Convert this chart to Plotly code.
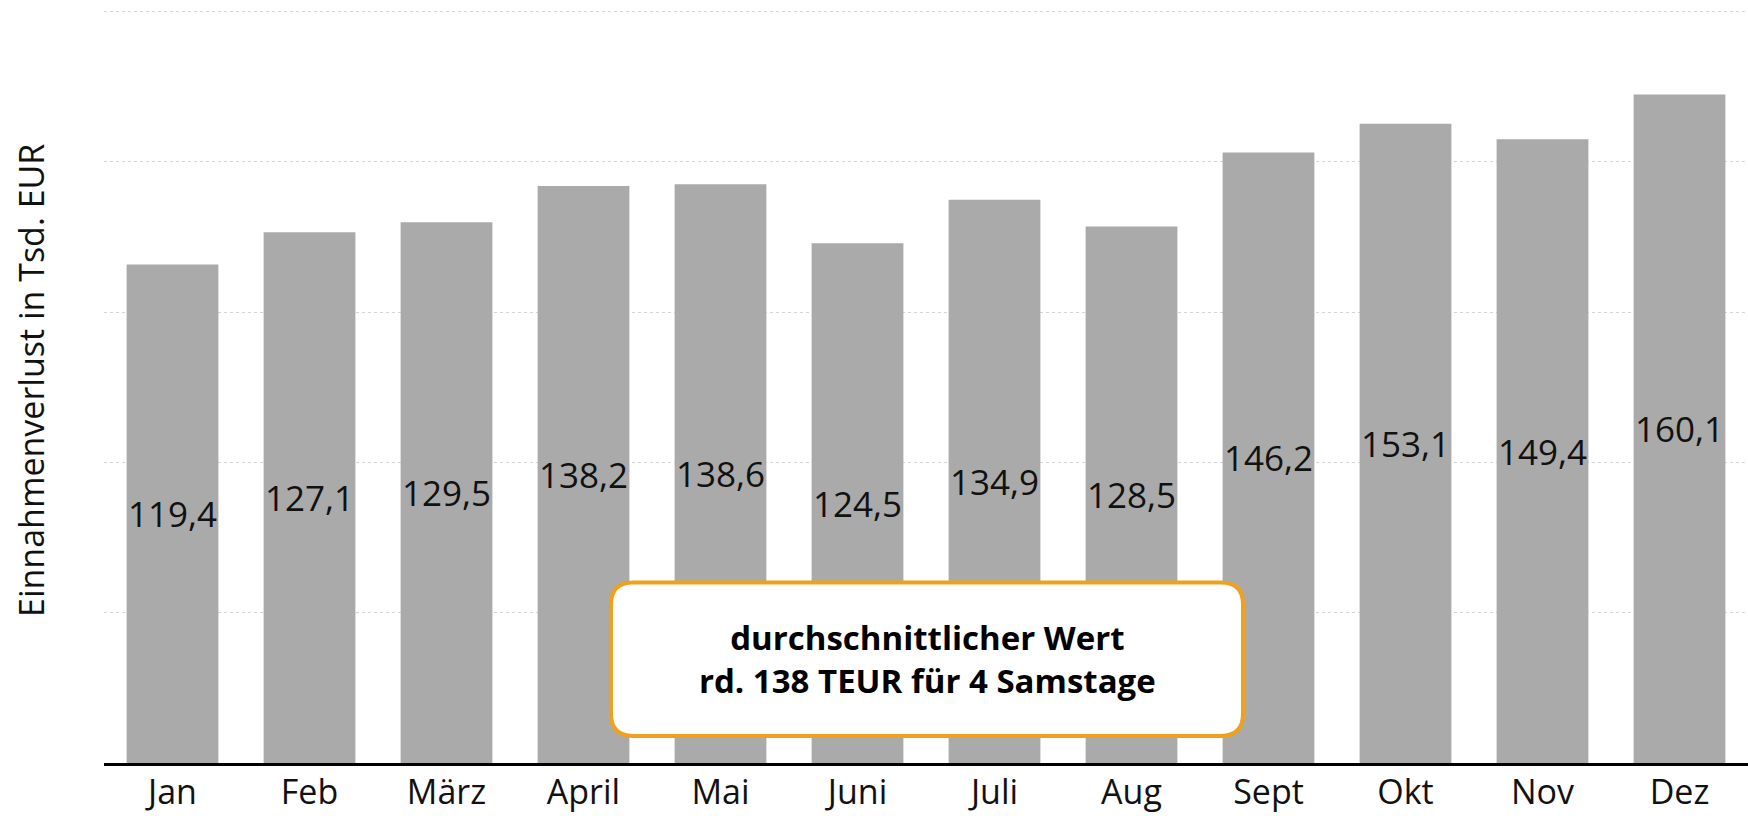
import plotly.graph_objects as go

months = ["Jan", "Feb", "März", "April", "Mai", "Juni", "Juli", "Aug", "Sept", "Okt", "Nov", "Dez"]
values = [119.4, 127.1, 129.5, 138.2, 138.6, 124.5, 134.9, 128.5, 146.2, 153.1, 149.4, 160.1]
labels = [f"{v:.1f}".replace(".", ",") for v in values]
grid_vals = [0, 36, 72, 108, 144, 180]
y_title = "Einnahmenverlust in Tsd. EUR"
box_text = "<b>durchschnittlicher Wert<br>rd. 138 TEUR für 4 Samstage</b>"

FONT = "Open Sans"

fig = go.Figure(go.Bar(
    x=months, y=values, text=labels,
    textposition="inside", insidetextanchor="middle", constraintext="none",
    textangle=0,
    textfont=dict(family=FONT, size=35, color="#111111"),
    marker=dict(color="#AAAAAA", line=dict(width=0)),
    hoverinfo="skip",
))

# rounded box (paper coords)
W, H = 1644, 752
x0, x1 = (611 - 104) / W, (1243 - 104) / W
y0, y1 = (763 - 736) / H, (763 - 583) / H
rx, ry = 22 / W, 22 / H
path = (f"M {x0+rx},{y0} L {x1-rx},{y0} Q {x1},{y0} {x1},{y0+ry} "
        f"L {x1},{y1-ry} Q {x1},{y1} {x1-rx},{y1} L {x0+rx},{y1} "
        f"Q {x0},{y1} {x0},{y1-ry} L {x0},{y0+ry} Q {x0},{y0} {x0+rx},{y0} Z")
fig.add_shape(type="path", path=path, xref="paper", yref="paper",
              fillcolor="white", line=dict(color="#F0A11C", width=4), layer="above")
fig.add_annotation(x=(x0 + x1) / 2, y=(y0 + y1) / 2, xref="paper", yref="paper",
                   text=box_text, showarrow=False, align="center",
                   xanchor="center", yanchor="middle",
                   font=dict(family=FONT, size=33, color="#000000"))
fig.add_annotation(x=(31 - 104) / W, y=(763 - 382) / H, xref="paper", yref="paper", text=y_title,
                   textangle=-90, showarrow=False, xanchor="center", yanchor="middle",
                   font=dict(family=FONT, size=34, color="#111111"))

fig.update_layout(
    width=1748, height=816,
    margin=dict(l=104, r=0, t=9, b=53),
    paper_bgcolor="white", plot_bgcolor="white",
    bargap=0.33, showlegend=False,
    xaxis=dict(showline=True, linecolor="#000000", linewidth=3, ticks="",
               tickfont=dict(family=FONT, size=34, color="#111111"),
               ticklabelstandoff=-3,
               showgrid=False, automargin=False),
    yaxis=dict(range=[0, 180.6], tickvals=grid_vals, showticklabels=False,
               showgrid=True, gridcolor="#D4D4D4", griddash="dot", gridwidth=1,
               zeroline=False, showline=False, automargin=False),
)

fig.write_html("out.html", config={"displayModeBar": False},
               post_script="document.body.style.margin='0';document.body.style.overflow='hidden';")
